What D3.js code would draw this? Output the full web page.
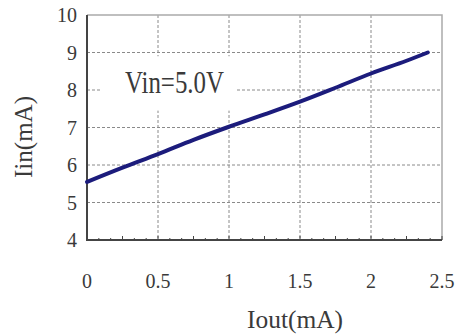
<!DOCTYPE html>
<html>
<head>
<meta charset="utf-8">
<title>Iin vs Iout</title>
<script src="https://d3js.org/d3.v7.min.js"></script>
<style>
	body { margin: 0; padding: 0; background: #fff; }
	text { font-family: "Liberation Serif", "DejaVu Serif", serif; fill: #3a3a3a; }
</style>
</head>
<body>
<div id="chart"></div>
<script>
// values
var ioutValues = [0, 0.25, 0.5, 0.75, 1, 1.25, 1.5, 1.75, 2, 2.25, 2.4];
var iinValues  = [5.55, 5.93, 6.29, 6.67, 7.02, 7.35, 7.69, 8.06, 8.44, 8.78, 9.0];
var xTicks = [0, 0.5, 1, 1.5, 2, 2.5];
var xTickLabels = ["0", "0.5", "1", "1.5", "2", "2.5"];
var yTicks = [4, 5, 6, 7, 8, 9, 10];
var xTitle = "Iout(mA)";
var yTitle = "Iin(mA)";
var note = "Vin=5.0V";

var W = 457, H = 335;
var m = {left: 87, right: 15, top: 15, bottom: 95};

var svg = d3.select("#chart").append("svg")
	.attr("width", W)
	.attr("height", H);

var x = d3.scaleLinear().domain([0, 2.5]).range([m.left, W - m.right]);
var y = d3.scaleLinear().domain([4, 10]).range([H - m.bottom, m.top]);

// grid
svg.append("g").selectAll("line")
	.data(xTicks.slice(1, -1))
	.join("line")
	.attr("x1", d => x(d)).attr("x2", d => x(d))
	.attr("y1", y(10)).attr("y2", y(4))
	.attr("stroke", "#8a8a8a").attr("stroke-dasharray", "3,2");
svg.append("g").selectAll("line")
	.data(yTicks.slice(1, -1))
	.join("line")
	.attr("x1", x(0)).attr("x2", x(2.5))
	.attr("y1", d => y(d)).attr("y2", d => y(d))
	.attr("stroke", "#8a8a8a").attr("stroke-dasharray", "3,2");

// top / right frame (light)
svg.append("path")
	.attr("d", "M" + x(0) + "," + y(10) + "H" + x(2.5) + "V" + y(4))
	.attr("fill", "none").attr("stroke", "#aaa").attr("stroke-width", 1.5);

// minor ticks on the bottom axis
var minor = d3.range(0, 31).map(i => i * 2.5 / 30);
svg.append("g").selectAll("line")
	.data(minor)
	.join("line")
	.attr("x1", d => x(d)).attr("x2", d => x(d))
	.attr("y1", y(4)).attr("y2", d => y(4) - (Math.abs(d * 4 - Math.round(d * 4)) < 1e-6 ? 4 : 2))
	.attr("stroke", "#444");

// left and bottom axes
svg.append("path")
	.attr("d", "M" + x(0) + "," + y(10) + "V" + y(4) + "H" + x(2.5))
	.attr("fill", "none").attr("stroke", "#444").attr("stroke-width", 2);

// tick labels
svg.append("g").selectAll("text")
	.data(yTicks)
	.join("text")
	.attr("x", x(0) - 10)
	.attr("y", d => y(d) + 7)
	.attr("text-anchor", "end")
	.attr("font-size", 20)
	.text(d => d);
svg.append("g").selectAll("text")
	.data(xTicks)
	.join("text")
	.attr("x", d => x(d))
	.attr("y", y(4) + 48)
	.attr("text-anchor", "middle")
	.attr("font-size", 20)
	.text((d, i) => xTickLabels[i]);

// axis titles
svg.append("text")
	.attr("x", 295).attr("y", 328)
	.attr("text-anchor", "middle")
	.attr("font-size", 25)
	.attr("textLength", 96)
	.attr("lengthAdjust", "spacingAndGlyphs")
	.text(xTitle);
svg.append("text")
	.attr("transform", "translate(32," + 137 + ") rotate(-90)")
	.attr("text-anchor", "middle")
	.attr("font-size", 25)
	.attr("textLength", 82)
	.attr("lengthAdjust", "spacingAndGlyphs")
	.text(yTitle);

// curve
var pts = ioutValues.map((d, i) => [d, iinValues[i]]);
svg.append("path")
	.datum(pts)
	.attr("fill", "none")
	.attr("stroke", "#1c1c7c")
	.attr("stroke-width", 4)
	.attr("stroke-linecap", "round")
	.attr("d", d3.line().x(d => x(d[0])).y(d => y(d[1])).curve(d3.curveMonotoneX));

// label box
svg.append("rect")
	.attr("x", x(0.1)).attr("y", y(8.9))
	.attr("width", x(1.05) - x(0.1)).attr("height", y(7.45) - y(8.9))
	.attr("fill", "#fff");
svg.append("text")
	.attr("x", 125).attr("y", 93)
	.attr("font-size", 31)
	.attr("textLength", 99)
	.attr("lengthAdjust", "spacingAndGlyphs")
	.text(note);
</script>
</body>
</html>
